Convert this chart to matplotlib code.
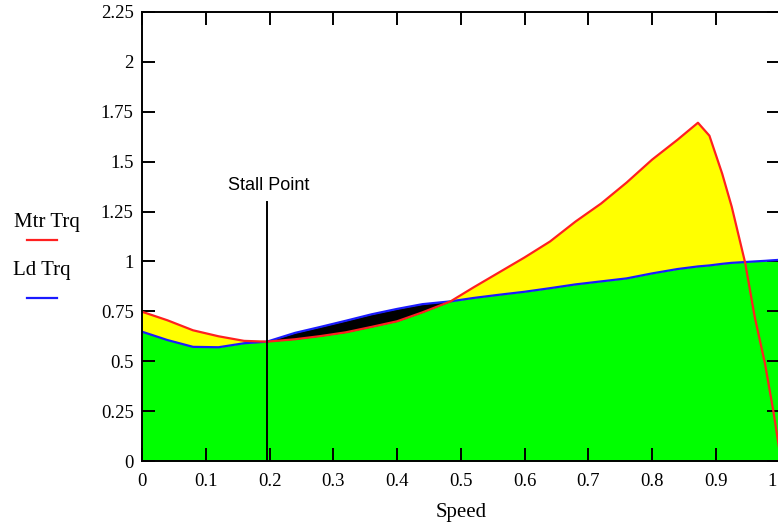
import numpy as np
import matplotlib
matplotlib.use("Agg")
import matplotlib.pyplot as plt

# ------------------------------------------------------------------
# Data
# ------------------------------------------------------------------
speed = np.array([0.0, 0.04, 0.08, 0.12, 0.16, 0.196, 0.24, 0.28, 0.32, 0.36,
                  0.40, 0.44, 0.484, 0.52, 0.56, 0.60, 0.64, 0.68, 0.72, 0.76,
                  0.80, 0.84, 0.872, 0.89, 0.91, 0.925, 0.946, 0.961, 0.977,
                  0.99, 1.0])

mtr_trq = np.array([0.748, 0.705, 0.655, 0.625, 0.602, 0.598, 0.61, 0.626, 0.645,
                    0.672, 0.70, 0.745, 0.80, 0.87, 0.945, 1.02, 1.10, 1.20,
                    1.29, 1.395, 1.51, 1.61, 1.695, 1.63, 1.44, 1.274, 0.994,
                    0.723, 0.49, 0.255, 0.05])

ld_trq = np.array([0.648, 0.606, 0.572, 0.57, 0.59, 0.598, 0.642, 0.672, 0.703,
                   0.735, 0.762, 0.786, 0.80, 0.817, 0.833, 0.848, 0.866, 0.885,
                   0.90, 0.915, 0.94, 0.962, 0.975, 0.98, 0.988, 0.993, 0.997,
                   1.0, 1.003, 1.006, 1.008])

stall_speed = 0.196
stall_top = 1.30

x_ticks = np.round(np.arange(0, 1.01, 0.1), 1)
x_tick_labels = ["0", "0.1", "0.2", "0.3", "0.4", "0.5", "0.6", "0.7", "0.8", "0.9", "1"]
y_ticks = np.arange(0, 2.26, 0.25)
y_tick_labels = ["0", "0.25", "0.5", "0.75", "1", "1.25", "1.5", "1.75", "2", "2.25"]

# ------------------------------------------------------------------
# Figure
# ------------------------------------------------------------------
W, H = 778, 524
fig = plt.figure(figsize=(W / 100, H / 100), dpi=100)
ax = fig.add_axes([142 / W, 1 - 461 / H, (778 - 142) / W + 0.002, (461 - 12) / H])

# dense grid so the fills follow the lines
xf = np.linspace(0, 1, 2000)
mf = np.interp(xf, speed, mtr_trq)
lf = np.interp(xf, speed, ld_trq)

ax.fill_between(xf, 0, lf, color="#00ff00", linewidth=0)
ax.fill_between(xf, lf, mf, where=mf > lf, color="#ffff00", linewidth=0, interpolate=True)
ax.fill_between(xf, mf, lf, where=(lf > mf) & (xf < 0.6), color="black",
                linewidth=0, interpolate=True)

ax.plot(speed, ld_trq, color="#1a1aff", linewidth=1.6)
ax.plot(speed, mtr_trq, color="#ff2020", linewidth=1.6)

# stall point marker
ax.plot([stall_speed, stall_speed], [0, stall_top], color="black", linewidth=1.4)
ax.text(stall_speed + 0.003, stall_top + 0.04, "Stall Point", ha="center", va="bottom",
        fontsize=13, family="Liberation Sans")

ax.set_xlim(0, 1)
ax.set_ylim(0, 2.25)

# last x label sits on the picture edge, so it is drawn separately below
ax.set_xticks(x_ticks)
ax.set_xticklabels(x_tick_labels[:-1] + [""], family="Liberation Serif")
ax.set_yticks(y_ticks)
ax.set_yticklabels(y_tick_labels, family="Liberation Serif")
ax.tick_params(direction="in", length=9.5, width=1.4, top=True, right=True,
               labelsize=13.5, pad=6)
ax.tick_params(axis="x", pad=9)
ax.annotate(x_tick_labels[-1], xy=(x_ticks[-1], 0), xycoords=("data", "axes fraction"),
            xytext=(-2, -9), textcoords="offset points", ha="right", va="top",
            fontsize=13.5, family="Liberation Serif", annotation_clip=False)

for sp in ax.spines.values():
    sp.set_linewidth(1.4)

ax.set_xlabel("Speed", fontsize=15, family="Liberation Serif", labelpad=9)

# left-hand legend in Mathcad style
fig.text(47 / W, 1 - 222 / H, "Mtr Trq", ha="center", va="center",
         fontsize=15, family="Liberation Serif")
fig.add_artist(plt.Line2D([27 / W, 57 / W], [1 - 240 / H, 1 - 240 / H],
                          color="#ff2020", linewidth=1.6))
fig.text(42 / W, 1 - 270 / H, "Ld Trq", ha="center", va="center",
         fontsize=15, family="Liberation Serif")
fig.add_artist(plt.Line2D([27 / W, 57 / W], [1 - 298 / H, 1 - 298 / H],
                          color="#1a1aff", linewidth=1.6))

fig.savefig("out.png", dpi=100)
